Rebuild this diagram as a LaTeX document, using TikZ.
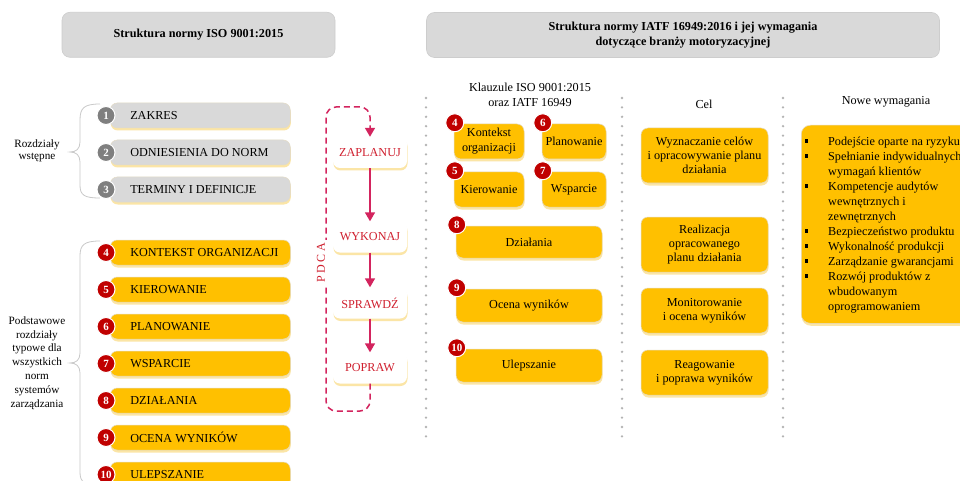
\documentclass[tikz,border=0pt]{standalone}
\usepackage{fontspec}
\setmainfont{Liberation Serif}
\usetikzlibrary{shadows,arrows.meta}

\definecolor{boxgray}{HTML}{D9D9D9}
\definecolor{hdrline}{HTML}{CDCDCD}
\definecolor{gold}{HTML}{FFC000}
\definecolor{badgered}{HTML}{C00000}
\definecolor{badgegray}{HTML}{7F7F7F}
\definecolor{pdcaline}{HTML}{D3245E}
\definecolor{pdcatext}{HTML}{D0202F}
\definecolor{glow}{HTML}{FBE5A6}
\definecolor{edge}{HTML}{E3DBC6}
\definecolor{dotgray}{HTML}{B3B3B3}
\definecolor{bracegray}{HTML}{C9C9C9}

\tikzset{
  glowshadow/.style={drop shadow={shadow xshift=0.5pt, shadow yshift=-2.5pt, fill=glow, opacity=1}},
  header/.style={rounded corners=8pt, fill=boxgray, draw=hdrline, line width=0.6pt,
    minimum height=45pt, align=center, font=\fontsize{12.2}{15.5}\selectfont\bfseries},
  listbox/.style={rounded corners=7pt, anchor=west, minimum height=25pt,
    inner xsep=20pt, inner ysep=0pt, font=\fontsize{12.2}{14}\selectfont,
    draw=edge, line width=0.5pt, glowshadow},
  grayitem/.style={listbox, fill=boxgray},
  golditem/.style={listbox, fill=gold},
  card/.style={rounded corners=7pt, fill=gold, draw=edge, line width=0.5pt, align=center,
    inner sep=0pt, font=\fontsize{12.2}{15}\selectfont, glowshadow},
  celcard/.style={card, minimum width=127pt, font=\fontsize{12.2}{14}\selectfont},
  badge/.style={circle, draw=white, line width=1pt, minimum size=18pt, inner sep=0pt,
    text=white, font=\fontsize{11}{11}\selectfont\bfseries},
  redbadge/.style={badge, fill=badgered},
  graybadge/.style={badge, fill=badgegray},
  stepcard/.style={rounded corners=7pt, fill=white, minimum width=74pt, minimum height=31pt,
    inner sep=0pt, text=pdcatext, font=\fontsize{12.2}{14}\selectfont, glowshadow},
  flow/.style={draw=pdcaline, line width=1.5pt, -{Triangle[width=10pt,length=9pt]}},
  cycle/.style={draw=pdcaline, line width=1.5pt, dash pattern=on 6pt off 4pt,
    rounded corners=10pt, -{Triangle[width=10pt,length=9pt]}},
  sep/.style={draw=dotgray, line width=2.6pt, line cap=round, dash pattern=on 0pt off 9.4pt},
  brace/.style={draw=bracegray, line width=0.8pt},
  caption/.style={align=center, inner sep=0pt, font=\fontsize{12.2}{15}\selectfont},
}
% fixed-width label area inside the chapter bars
\newcommand{\barlabel}[1]{\makebox[140pt][l]{#1}}

\begin{document}
\begin{tikzpicture}[x=1pt, y=-1pt]
\useasboundingbox (0,0) rectangle (960,481);
\clip (0,0) rectangle (960,481);
\fill[white] (0,0) rectangle (960,481);

% ---------- headers ----------
\node[header, minimum width=273pt] (hdrL) at (198.5,34.8) {Struktura normy ISO 9001:2015};
\node[header, minimum width=513pt] (hdrR) at (683,35)
  {Struktura normy IATF 16949:2016 i jej wymagania\\dotyczące branży motoryzacyjnej};

% ---------- chapters of ISO 9001 ----------
\node[grayitem] (c1) at (110,115.5) {\barlabel{ZAKRES}};
\node[grayitem] (c2) at (110,152.5) {\barlabel{ODNIESIENIA DO NORM}};
\node[grayitem] (c3) at (110,189.5) {\barlabel{TERMINY I DEFINICJE}};
\node[golditem] (c4) at (110,252.5) {\barlabel{KONTEKST ORGANIZACJI}};
\node[golditem] (c5) at (110,289.5) {\barlabel{KIEROWANIE}};
\node[golditem] (c6) at (110,326.5) {\barlabel{PLANOWANIE}};
\node[golditem] (c7) at (110,363.5) {\barlabel{WSPARCIE}};
\node[golditem] (c8) at (110,400.5) {\barlabel{DZIAŁANIA}};
\node[golditem] (c9) at (110,437.5) {\barlabel{OCENA WYNIKÓW}};
\node[golditem] (c10) at (110,474.5) {\barlabel{ULEPSZANIE}};

\foreach \k in {1,2,3}{
  \node[graybadge] (b\k) at ([xshift=-4pt]c\k.west) {\k};
}
\foreach \k in {4,...,10}{
  \node[redbadge] (b\k) at ([xshift=-4pt]c\k.west) {\k};
}

% braces and their labels
\draw[brace] (100,104) .. controls (84,104) and (80,108) .. (80,120) -- (80,142)
  .. controls (80,149) and (76,152) .. (70,152)
  .. controls (76,152) and (80,155) .. (80,162) -- (80,185)
  .. controls (80,195) and (84,198) .. (100,198);
\node[align=center, inner sep=0pt, font=\fontsize{11.2}{12}\selectfont] (introlbl) at (37,151)
  {Rozdziały\\wstępne};

\draw[brace] (100,241) .. controls (84,241) and (80,245) .. (80,256) -- (80,353)
  .. controls (80,360) and (76,363) .. (70,363)
  .. controls (76,363) and (80,366) .. (80,373) -- (80,472)
  .. controls (80,482) and (84,485) .. (100,485);
\node[align=center, inner sep=0pt, font=\fontsize{11.2}{13.8}\selectfont] (mainlbl) at (37,363)
  {Podstawowe\\rozdziały\\typowe dla\\wszystkich\\norm\\systemów\\zarządzania};

% ---------- PDCA cycle ----------
\node[stepcard] (zap) at (370,152.5) {ZAPLANUJ};
\node[stepcard] (wyk) at (370,237) {WYKONAJ};
\node[stepcard] (spr) at (370,303) {SPRAWDŹ};
\node[stepcard] (pop) at (370,368) {POPRAW};

\draw[flow] (zap.south) -- (wyk.north);
\draw[flow] (wyk.south) -- (spr.north);
\draw[flow] (spr.south) -- (pop.north);

\coordinate (loopA) at (370,411);
\coordinate (loopB) at (326,411);
\coordinate (loopC) at (326,107);
\coordinate (loopD) at (370,107);
\draw[cycle] (pop.south) -- (loopA) -- (loopB) -- (loopC) -- (loopD) -- (zap.north);
\node[fill=white, rotate=90, inner sep=3.5pt, text=pdcatext, font=\fontsize{12}{12}\selectfont]
  (pdca) at (321,263) {P\hspace{2.5pt}D\hspace{2.5pt}C\hspace{2.5pt}A};

% ---------- dotted column separators ----------
\draw[sep] (426,98) -- (426,440);
\draw[sep] (622,98) -- (622,440);
\draw[sep] (783,98) -- (783,440);

% ---------- column headings ----------
\node[caption] (hClauses) at (530,94.5) {Klauzule ISO 9001:2015\\oraz IATF 16949};
\node[caption] (hGoal) at (704,104) {Cel};
\node[caption] (hNew) at (886,102) {Nowe wymagania};

% ---------- clauses ----------
\node[card, minimum width=70pt, minimum height=35pt] (k4) at (489,141.5) {Kontekst\\organizacji};
\node[card, minimum width=64pt, minimum height=35pt] (k6) at (574,141.5) {Planowanie};
\node[card, minimum width=70pt, minimum height=35pt] (k5) at (489,189.5) {Kierowanie};
\node[card, minimum width=64pt, minimum height=35pt] (k7) at (574,189.5) {Wsparcie};
\node[card, minimum width=146pt, minimum height=32pt] (k8) at (529,242) {Działania};
\node[card, minimum width=146pt, minimum height=33pt] (k9) at (529,305.5) {Ocena wyników};
\node[card, minimum width=146pt, minimum height=33pt] (k10) at (529,365.5) {Ulepszanie};

\foreach \k in {4,...,10}{
  \node[redbadge] (kb\k) at ([xshift=1pt,yshift=1pt]k\k.north west) {\k};
}

% ---------- goals ----------
\node[celcard, minimum height=55pt] (g1) at (704.5,155.5)
  {Wyznaczanie celów\\i opracowywanie planu\\działania};
\node[celcard, minimum height=55pt] (g2) at (704.5,244.5)
  {Realizacja\\opracowanego\\planu działania};
\node[celcard, minimum height=45pt] (g3) at (704.5,310.5)
  {Monitorowanie\\i ocena wyników};
\node[celcard, minimum height=45pt] (g4) at (704.5,372.5)
  {Reagowanie\\i poprawa wyników};

% ---------- new requirements ----------
\node[card, rounded corners=9pt, anchor=north west, minimum width=190pt, minimum height=198pt]
  (nowe) at (801,125) {};
\newcommand{\sqbullet}{\rule[2.6pt]{3.6pt}{3.6pt}}
\node[anchor=base west, inner sep=0pt, font=\fontsize{12.2}{15}\selectfont] (nowetxt) at (804.5,145.5)
  {\begin{tabular}[t]{@{}p{23.5pt}@{}l@{}}
    \sqbullet & Podejście oparte na ryzyku\\
    \sqbullet & Spełnianie indywidualnych\\
              & wymagań klientów\\
    \sqbullet & Kompetencje audytów\\
              & wewnętrznych i\\
              & zewnętrznych\\
    \sqbullet & Bezpieczeństwo produktu\\
    \sqbullet & Wykonalność produkcji\\
    \sqbullet & Zarządzanie gwarancjami\\
    \sqbullet & Rozwój produktów z\\
              & wbudowanym\\
              & oprogramowaniem
  \end{tabular}};
\end{tikzpicture}
\end{document}
